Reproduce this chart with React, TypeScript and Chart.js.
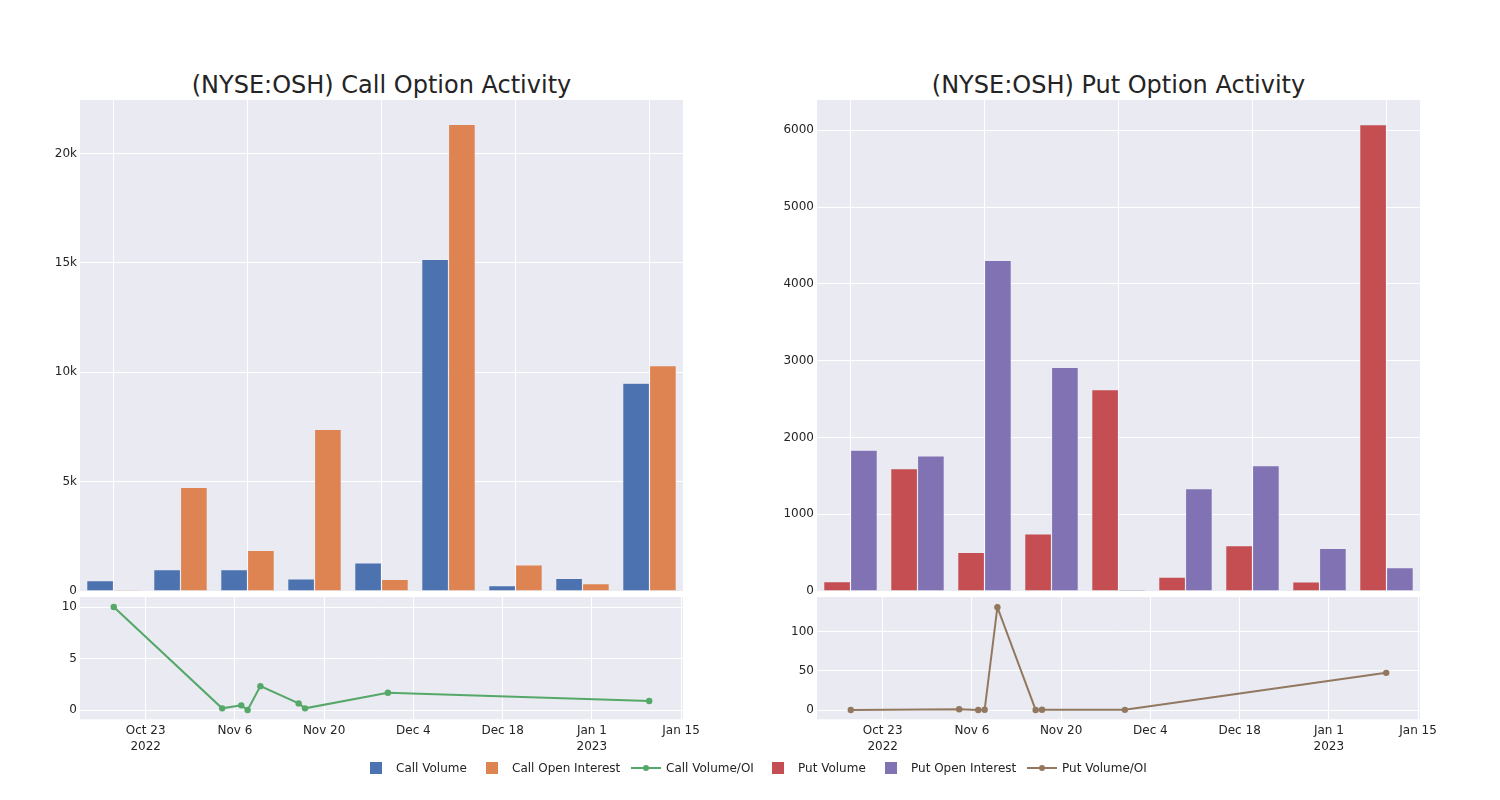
import React, { useEffect, useRef } from 'react';
import { Chart, registerables } from 'chart.js';

Chart.register(...registerables);

// ---------- data ----------
const barCategories = ['2022-10-18', '2022-11-04', '2022-11-07', '2022-11-08', '2022-11-10', '2022-11-16', '2022-11-17', '2022-11-30', '2023-01-10'];
const callVolume = [470, 980, 980, 550, 1280, 15150, 245, 580, 9500];
const callOpenInterest = [55, 4730, 1860, 7380, 535, 21330, 1190, 340, 10300];
const putVolume = [122, 1594, 504, 743, 2624, 182, 591, 117, 6073];
const putOpenInterest = [1833, 1759, 4305, 2911, 20, 1334, 1633, 556, 304];

const ratioDates = ['2022-10-18', '2022-11-04', '2022-11-07', '2022-11-08', '2022-11-10', '2022-11-16', '2022-11-17', '2022-11-30', '2023-01-10'];
const callVolumeOI = [10, 0.19, 0.48, 0.03, 2.34, 0.67, 0.19, 1.7, 0.9];
const putVolumeOI = [0.1, 0.9, 0.1, 0.3, 131.6, 0.1, 0.4, 0.2, 47.6];

const callBarTicks = [0, 5000, 10000, 15000, 20000];
const callBarTickLabels = ['0', '5k', '10k', '15k', '20k'];
const putBarTicks = [0, 1000, 2000, 3000, 4000, 5000, 6000];
const putBarTickLabels = ['0', '1000', '2000', '3000', '4000', '5000', '6000'];
const callRatioTicks = [0, 5, 10];
const callRatioTickLabels = ['0', '5', '10'];
const putRatioTicks = [0, 50, 100];
const putRatioTickLabels = ['0', '50', '100'];
const dateTicks = ['2022-10-23', '2022-11-06', '2022-11-20', '2022-12-04', '2022-12-18', '2023-01-01', '2023-01-15'];
const dateTickLabels: (string | string[])[] = [['Oct 23', '2022'], 'Nov 6', 'Nov 20', 'Dec 4', 'Dec 18', ['Jan 1', '2023'], 'Jan 15'];

// ---------- styling ----------
const FONT = 'DejaVu Sans';
const TEXT = 'rgb(36,36,36)';
const BG = '#EAEAF2';
const C_BLUE = '#4C72B0';
const C_ORANGE = '#DD8452';
const C_GREEN = '#55A868';
const C_RED = '#C44E52';
const C_PURPLE = '#8172B3';
const C_BROWN = '#937860';

const toDay = (s: string) => {
  const [y, m, d] = s.split('-').map(Number);
  return Date.UTC(y, m - 1, d) / 86400000;
};

const bgPlugin = {
  id: 'plotBg',
  beforeDraw(chart: any) {
    const { ctx, chartArea: a } = chart;
    ctx.save();
    ctx.fillStyle = BG;
    ctx.fillRect(a.left, a.top, a.right - a.left, a.bottom - a.top);
    ctx.restore();
  },
};

const tickFont = { family: FONT, size: 12 };

function yScale(min: number, max: number, ticks: number[], labels: string[], width: number) {
  return {
    min,
    max,
    bounds: 'data',
    grid: { color: '#ffffff', lineWidth: 1, drawTicks: false },
    border: { display: false },
    ticks: {
      padding: 3,
      font: tickFont,
      color: TEXT,
      autoSkip: false,
      callback: (_v: any, i: number) => labels[i],
    },
    afterBuildTicks: (s: any) => {
      s.ticks = ticks.map((v) => ({ value: v }));
    },
    afterFit: (s: any) => {
      s.width = width;
      s.paddingTop = 0;
      s.paddingBottom = 0;
    },
  };
}

function barConfig(a: number[], b: number[], la: string, lb: string, ca: string, cb: string, yMax: number, ticks: number[], labels: string[], yWidth: number, padRight: number) {
  const ds = (label: string, data: number[], color: string) => ({
    label,
    data,
    backgroundColor: color,
    borderColor: BG,
    borderWidth: 0.6,
    categoryPercentage: 0.8,
    barPercentage: 1.0,
  });
  return {
    type: 'bar',
    data: { labels: barCategories, datasets: [ds(la, a, ca), ds(lb, b, cb)] },
    options: {
      responsive: false,
      animation: false,
      devicePixelRatio: 1,
      layout: { padding: { left: 0, right: padRight, top: 10, bottom: 9 } },
      plugins: { legend: { display: false }, tooltip: { enabled: false }, title: { display: false } },
      scales: {
        x: {
          grid: { color: '#ffffff', lineWidth: 1, offset: false, drawTicks: false },
          border: { display: false },
          ticks: { display: false },
          afterBuildTicks: (s: any) => {
            s.ticks = s.ticks.filter((_t: any, i: number) => i % 2 === 0);
          },
          afterFit: (s: any) => {
            s.height = 0;
            s.paddingLeft = 0;
            s.paddingRight = 0;
          },
        },
        y: yScale(0, yMax, ticks, labels, yWidth),
      },
    },
    plugins: [bgPlugin],
  };
}

const xMin = toDay('2022-10-23') - 10.3;
const xMax = toDay('2023-01-15') + 0.3;

function lineConfig(values: number[], label: string, color: string, yMin: number, yMax: number, ticks: number[], labels: string[], yWidth: number, padRight: number) {
  return {
    type: 'line',
    data: {
      datasets: [
        {
          label,
          data: ratioDates.map((d, i) => ({ x: toDay(d), y: values[i] })),
          borderColor: color,
          backgroundColor: color,
          borderWidth: 2,
          pointRadius: 3.2,
          pointBorderWidth: 0,
          pointBackgroundColor: color,
          tension: 0,
        },
      ],
    },
    options: {
      responsive: false,
      animation: false,
      devicePixelRatio: 1,
      layout: { padding: { left: 0, right: padRight, top: 7, bottom: 0 } },
      plugins: { legend: { display: false }, tooltip: { enabled: false } },
      scales: {
        x: {
          type: 'linear',
          min: xMin,
          max: xMax,
          bounds: 'data',
          grid: { color: '#ffffff', lineWidth: 1, drawTicks: false },
          border: { display: false },
          ticks: {
            padding: 4,
            font: { family: FONT, size: 12, lineHeight: 1.33 },
            color: TEXT,
            autoSkip: false,
            maxRotation: 0,
            callback: (_v: any, i: number) => dateTickLabels[i],
          },
          afterBuildTicks: (s: any) => {
            s.ticks = dateTicks.map((d) => ({ value: toDay(d) }));
          },
          afterFit: (s: any) => {
            s.height = 40.7;
            s.paddingLeft = 0;
            s.paddingRight = 0;
          },
        },
        y: yScale(yMin, yMax, ticks, labels, yWidth),
      },
    },
    plugins: [bgPlugin],
  };
}

function ChartBox({ left, top, width, height, config }: { left: number; top: number; width: number; height: number; config: any }) {
  const ref = useRef<HTMLCanvasElement | null>(null);
  useEffect(() => {
    if (!ref.current) return;
    const chart = new Chart(ref.current, config);
    return () => chart.destroy();
  }, [config]);
  return (
    <div style={{ position: 'absolute', left, top, width, height }}>
      <canvas ref={ref} width={width} height={height} style={{ width, height, display: 'block' }} />
    </div>
  );
}

const legendItems = [
  { label: 'Call Volume', color: C_BLUE, kind: 'bar', left: 356 },
  { label: 'Call Open Interest', color: C_ORANGE, kind: 'bar', left: 472 },
  { label: 'Call Volume/OI', color: C_GREEN, kind: 'line', left: 626 },
  { label: 'Put Volume', color: C_RED, kind: 'bar', left: 758 },
  { label: 'Put Open Interest', color: C_PURPLE, kind: 'bar', left: 871 },
  { label: 'Put Volume/OI', color: C_BROWN, kind: 'line', left: 1022 },
];

const callBarCfg = barConfig(callVolume, callOpenInterest, 'Call Volume', 'Call Open Interest', C_BLUE, C_ORANGE, 22440, callBarTicks, callBarTickLabels, 80, 17);
const putBarCfg = barConfig(putVolume, putOpenInterest, 'Put Volume', 'Put Open Interest', C_RED, C_PURPLE, 6395, putBarTicks, putBarTickLabels, 77, 20);
const callLineCfg = lineConfig(callVolumeOI, 'Call Volume/OI', C_GREEN, -0.87, 10.97, callRatioTicks, callRatioTickLabels, 80, 17);
const putLineCfg = lineConfig(putVolumeOI, 'Put Volume/OI', C_BROWN, -11.9, 144.7, putRatioTicks, putRatioTickLabels, 77, 20);

export default function App() {
  return (
    <div style={{ position: 'absolute', left: 0, top: 0, width: 1500, height: 800, background: '#fff', fontFamily: FONT, color: TEXT, overflow: 'hidden' }}>
      <div style={{ position: 'absolute', left: 80, width: 603, top: 71, height: 28, lineHeight: '28px', textAlign: 'center', fontSize: 24, whiteSpace: 'nowrap' }}>
        (NYSE:OSH) Call Option Activity
      </div>
      <div style={{ position: 'absolute', left: 817, width: 603, top: 71, height: 28, lineHeight: '28px', textAlign: 'center', fontSize: 24, whiteSpace: 'nowrap' }}>
        (NYSE:OSH) Put Option Activity
      </div>
      <ChartBox left={0} top={90} width={700} height={510} config={callBarCfg} />
      <ChartBox left={740} top={90} width={700} height={510} config={putBarCfg} />
      <ChartBox left={0} top={590} width={700} height={170} config={callLineCfg} />
      <ChartBox left={740} top={590} width={700} height={170} config={putLineCfg} />
      {legendItems.map((it) => (
        <div key={it.label} style={{ position: 'absolute', left: it.left, top: 758, height: 20, width: 200 }}>
          {it.kind === 'bar' ? (
            <div style={{ position: 'absolute', left: 14, top: 4, width: 12, height: 12, background: it.color }} />
          ) : (
            <>
              <div style={{ position: 'absolute', left: 5, top: 9, width: 30, height: 2, background: it.color }} />
              <div style={{ position: 'absolute', left: 17, top: 7, width: 6, height: 6, borderRadius: 3, background: it.color }} />
            </>
          )}
          <div style={{ position: 'absolute', left: 40, top: 0, height: 20, lineHeight: '20px', fontSize: 12, whiteSpace: 'nowrap' }}>{it.label}</div>
        </div>
      ))}
    </div>
  );
}
